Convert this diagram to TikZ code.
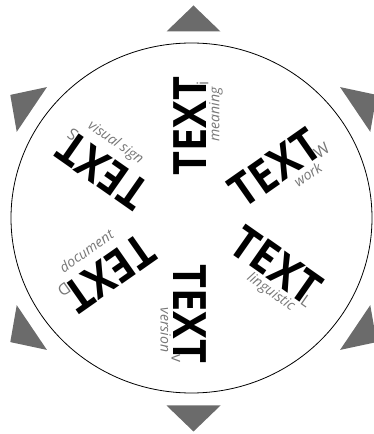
\documentclass[tikz,border=0pt]{standalone}
\usepackage{fontspec}
\IfFontExistsTF{Open Sans ExtraBold}
  {\setmainfont{Open Sans}[BoldFont={Open Sans ExtraBold}]}
  {\setmainfont{Open Sans}}
\usetikzlibrary{calc}
\definecolor{trigray}{HTML}{6B6B6B}
\definecolor{wordgray}{HTML}{777777}
\tikzset{
  bigword/.style={font=\fontsize{46}{46}\selectfont\bfseries, inner sep=0pt, xscale=0.9},
  subword/.style={font=\fontsize{16}{16}\selectfont, text=wordgray, inner sep=0pt},
  smallword/.style={font=\fontsize{14}{14}\selectfont\itshape, text=wordgray, inner sep=0pt},
  arrowtri/.style={fill=trigray}
}
\begin{document}
\begin{tikzpicture}[x=1pt,y=1pt]
  \useasboundingbox (0,0) rectangle (373,434);
  \coordinate (c) at (190,215);
  \coordinate (tc) at (193.5,215.5);
  \draw [line width=0.8pt, fill=white] (191.5,216) ellipse [x radius=180.5, y radius=175];
  % six arrow heads round the circle
  \foreach \a/\R in {90/187,146/195,214/195,270/187,326/195,34/195}
    \fill [arrowtri, shift={(tc)}, rotate=\a] (\R,-27) -- (\R+26,0) -- (\R,27) -- cycle;
  % the six TEXT groups: name/angle/radius/rotation/sub/label/flip
  \foreach \n/\p/\r/\t/\s/\l/\f in {i/90/93/90/i/meaning/0,
      w/31/99/35/W/work/0,
      l/-28/98/-35/L/linguistic/0,
      v/-90/95/-90/v/version/0,
      d/214/97/215/D/document/180,
      s/151/100/145/S/visual sign/180} {
    \begin{scope}[shift={($(c)+(\p:\r)$)}, rotate=\t, transform shape]
      \node [bigword] (t\n) at (0,0) {TEXT};
      \node [subword, anchor=base west] (s\n) at ($(t\n.base east)+(-9,-2)$) {\s};
      \ifnum\f=0
        \node [smallword, anchor=base east] (l\n) at ($(t\n.base east)+(-11,-13)$) {\l};
      \else
        \node [smallword, anchor=base west, rotate=180] (l\n) at ($(t\n.base east)+(-12,-10)$) {\l};
      \fi
    \end{scope}
  }
\end{tikzpicture}
\end{document}
